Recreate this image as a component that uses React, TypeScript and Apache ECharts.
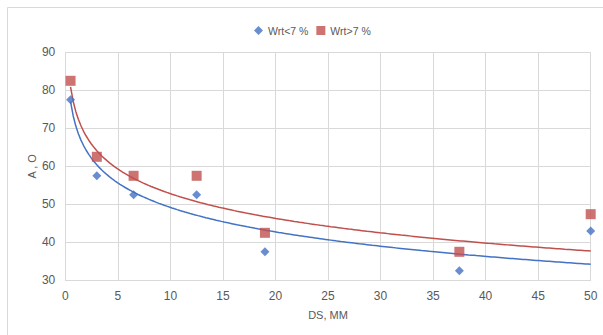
import React, { useEffect, useRef } from "react";
import * as echarts from "echarts";

const seriesNames = ["Wrt<7 %", "Wrt>7 %"];
const xLow = [0.5, 3, 6.5, 12.5, 19, 37.5, 50];
const yLow = [77.5, 57.5, 52.5, 52.5, 37.5, 32.5, 43];
const xHigh = [0.5, 3, 6.5, 12.5, 19, 37.5, 50];
const yHigh = [82.5, 62.5, 57.5, 57.5, 42.5, 37.5, 47.4];
// logarithmic trend lines y = a + b*ln(x), coefficients
const trendLow = [70.6, -9.3];
const trendHigh = [74.4, -9.38];
const xTicks = [0, 5, 10, 15, 20, 25, 30, 35, 40, 45, 50];
const yTicks = [30, 40, 50, 60, 70, 80, 90];

const BLUE = "#4472C4";
const RED = "#C0504D";
const TXT = "#595959";
const GRID = "#d9d9d9";
const FONT = "'Liberation Sans', Arial, sans-serif";

function trendPoints(coef: number[], xs: number[]) {
  const x0 = Math.min(...xs);
  const x1 = Math.max(...xs);
  const pts: number[][] = [];
  const n = 200;
  for (let i = 0; i <= n; i++) {
    const x = x0 + ((x1 - x0) * i) / n;
    pts.push([x, coef[0] + coef[1] * Math.log(x)]);
  }
  return pts;
}

export default function App() {
  const ref = useRef<HTMLDivElement>(null);
  useEffect(() => {
    if (!ref.current) return;
    const chart = echarts.init(ref.current, undefined, { renderer: "svg" });
    chart.setOption({
      animation: false,
      backgroundColor: "#ffffff",
      textStyle: { fontFamily: FONT },
      graphic: [
        {
          type: "rect",
          shape: { x: 7.5, y: 7.5, width: 620, height: 340 },
          style: { fill: "none", stroke: GRID, lineWidth: 1 },
          silent: true,
          z: -10,
        },
      ],
      legend: {
        top: 20,
        left: 249,
        itemWidth: 9,
        itemHeight: 9,
        itemGap: 8,
        textStyle: { color: TXT, fontSize: 10.5, fontFamily: FONT },
        data: [
          { name: seriesNames[0], icon: "diamond" },
          { name: seriesNames[1], icon: "rect" },
        ],
      },
      grid: { left: 65.3, right: 12.3, top: 52.3, bottom: 54.7 },
      xAxis: {
        type: "value",
        min: xTicks[0],
        max: xTicks[xTicks.length - 1],
        interval: 5,
        name: "DS, MM",
        nameLocation: "middle",
        nameGap: 29,
        nameMoveOverlap: false,
        nameTextStyle: { color: TXT, fontSize: 11 },
        axisLine: { show: true, lineStyle: { color: GRID, width: 1 } },
        axisTick: { show: false },
        axisLabel: { color: TXT, fontSize: 12, margin: 10 },
        splitLine: { show: true, lineStyle: { color: GRID, width: 1 } },
      },
      yAxis: {
        type: "value",
        min: yTicks[0],
        max: yTicks[yTicks.length - 1],
        interval: 10,
        name: "A , O",
        nameLocation: "middle",
        nameGap: 28,
        nameMoveOverlap: false,
        nameRotate: 90,
        nameTextStyle: { color: TXT, fontSize: 11 },
        axisLine: { show: true, lineStyle: { color: GRID, width: 1 } },
        axisTick: { show: false },
        axisLabel: { color: TXT, fontSize: 12, margin: 10 },
        splitLine: { show: true, lineStyle: { color: GRID, width: 1 } },
      },
      series: [
        {
          name: seriesNames[0] + " trend",
          type: "line",
          data: trendPoints(trendLow, xLow),
          showSymbol: false,
          symbol: "none",
          lineStyle: { color: BLUE, width: 1.5 },
          z: 2,
          silent: true,
        },
        {
          name: seriesNames[1] + " trend",
          type: "line",
          data: trendPoints(trendHigh, xHigh),
          showSymbol: false,
          symbol: "none",
          lineStyle: { color: RED, width: 1.5 },
          z: 2,
          silent: true,
        },
        {
          name: seriesNames[0],
          type: "scatter",
          symbol: "diamond",
          symbolSize: 9,
          itemStyle: { color: BLUE },
          data: xLow.map((x, i) => [x, yLow[i]]),
          z: 4,
        },
        {
          name: seriesNames[1],
          type: "scatter",
          symbol: "rect",
          symbolSize: 10,
          itemStyle: { color: RED },
          data: xHigh.map((x, i) => [x, yHigh[i]]),
          z: 3,
        },
      ],
    });
    return () => chart.dispose();
  }, []);
  return (
    <div
      ref={ref}
      style={{ position: "absolute", left: 0, top: 0, width: 603, height: 335 }}
    />
  );
}
